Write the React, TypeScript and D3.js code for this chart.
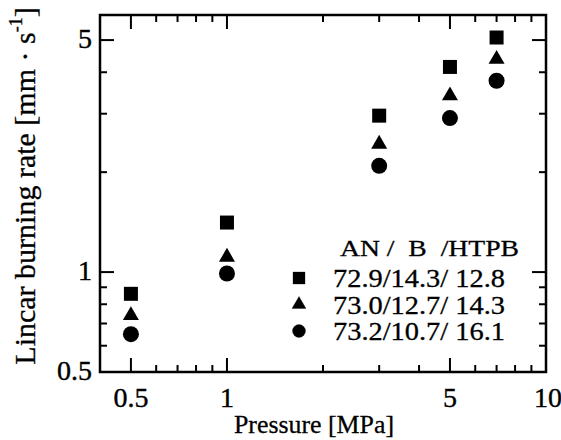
import React from 'react'
import * as d3 from 'd3'

// burning rate vs pressure, three AN/B/HTPB compositions
const pressures = [0.5, 1, 3, 5, 7]
const rateSquare = [0.86, 1.41, 2.96, 4.15, 5.09]
const rateTriangle = [0.74, 1.11, 2.43, 3.4, 4.38]
const rateCircle = [0.65, 0.99, 2.09, 2.91, 3.77]
const seriesLabels = ['72.9/14.3/ 12.8', '73.0/12.7/ 14.3', '73.2/10.7/ 16.1']
const legendHeader = 'AN /  B  /HTPB'

const xMajor = [0.5, 1, 5, 10]
const xMinor = [0.6, 0.7, 0.8, 0.9, 2, 3, 4, 6, 7, 8, 9]
const yMajor = [0.5, 1, 5]
const yMinor = [0.6, 0.7, 0.8, 0.9, 2, 3, 4]

const W = 561
const H = 440
const left = 100
const right = 546
const top = 15
const bottom = 372
const font = '"Liberation Serif", "Times New Roman", serif'

const App = () => {
  const x = d3.scaleLog().domain([0.4, 10]).range([left, right])
  const y = d3.scaleLog().domain([0.5, 5.95]).range([bottom, top])

  const sym = (type: d3.SymbolType, size: number) => d3.symbol().type(type).size(size)() || ''
  const series = [
    { values: rateSquare, path: sym(d3.symbolSquare, 196), legend: sym(d3.symbolSquare, 144) },
    { values: rateTriangle, path: sym(d3.symbolTriangle, 111), legend: sym(d3.symbolTriangle, 85) },
    { values: rateCircle, path: sym(d3.symbolCircle, 201), legend: sym(d3.symbolCircle, 133) },
  ]

  const majorLen = 14
  const minorLen = 7
  const fmt = (v: number) => (v < 1 ? String(v) : d3.format('d')(v))

  return (
    <svg width={W} height={H} style={{ position: 'absolute', left: 0, top: 0, background: 'white' }}
      fontFamily={font}>
      {/* ticks, inward on all four sides */}
      <g stroke="black" strokeWidth={2}>
        {[...xMajor.map(v => [v, majorLen]), ...xMinor.map(v => [v, minorLen])].map(([v, len], i) => (
          <g key={'xt' + i}>
            <line x1={x(v)} x2={x(v)} y1={bottom} y2={bottom - len} />
            <line x1={x(v)} x2={x(v)} y1={top} y2={top + len} />
          </g>
        ))}
        {[...yMajor.map(v => [v, majorLen]), ...yMinor.map(v => [v, minorLen])].map(([v, len], i) => (
          <g key={'yt' + i}>
            <line x1={left} x2={left + len} y1={y(v)} y2={y(v)} />
            <line x1={right} x2={right - len} y1={y(v)} y2={y(v)} />
          </g>
        ))}
      </g>
      <rect x={left} y={top} width={right - left} height={bottom - top} fill="none" stroke="black" strokeWidth={2.5} />

      {/* tick labels */}
      <g stroke="black" strokeWidth={0.4}>
        {xMajor.map(v => (
          <text key={'xl' + v} x={x(v) + (v === 10 ? 2 : 0)} y={407} fontSize={28} textAnchor="middle">{fmt(v)}</text>
        ))}
        {yMajor.map(v => (
          <text key={'yl' + v} x={92} y={y(v) + 8} fontSize={28} textAnchor="end">{fmt(v)}</text>
        ))}
      </g>

      {/* axis titles */}
      <text x={314} y={433} fontSize={26} textAnchor="middle" textLength={160} lengthAdjust="spacingAndGlyphs"
        stroke="black" strokeWidth={0.3}>
        Pressure [MPa]
      </text>
      <text transform="translate(35,186) rotate(-90)" fontSize={30} textAnchor="middle" stroke="black" strokeWidth={0.3}>
        Lincar burning rate [mm · s<tspan fontSize={18} dy={-13}>-1</tspan><tspan dy={13}>]</tspan>
      </text>

      {/* data */}
      {series.map((s, si) =>
        s.values.map((v, i) => (
          <path key={si + '-' + i} d={s.path} transform={`translate(${x(pressures[i])},${y(v)})`} fill="black" />
        ))
      )}

      {/* legend */}
      <g stroke="black" strokeWidth={0.3}>
        <text x={340} y={256} fontSize={24} style={{ whiteSpace: 'pre' }} textLength={179} lengthAdjust="spacingAndGlyphs">
          {legendHeader}
        </text>
        {seriesLabels.map((lab, i) => (
          <g key={'lg' + i}>
            <path d={series[i].legend} transform={`translate(299,${278 + i * 26.5})`} fill="black" />
            <text x={333} y={287 + i * 26.5} fontSize={26} style={{ whiteSpace: 'pre' }}
              textLength={172} lengthAdjust="spacingAndGlyphs">{lab}</text>
          </g>
        ))}
      </g>
    </svg>
  )
}

export default App
